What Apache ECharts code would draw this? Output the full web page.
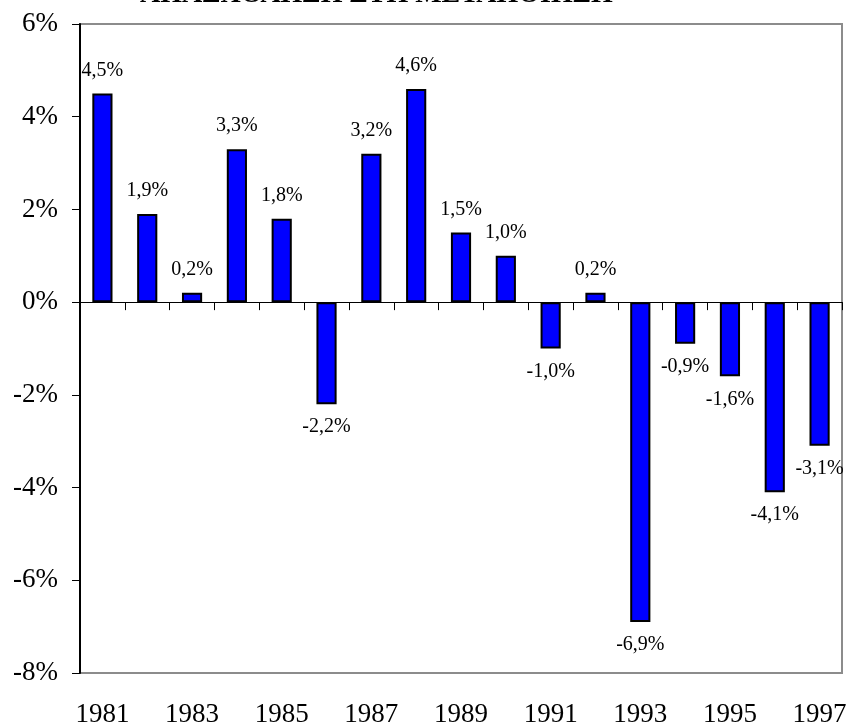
<!DOCTYPE html>
<html>
<head>
<meta charset="utf-8">
<script src="https://cdn.jsdelivr.net/npm/echarts@6/dist/echarts.min.js"></script>
<style>
  html, body { margin: 0; padding: 0; background: #fff; }
  #chart { width: 850px; height: 728px; }
</style>
</head>
<body>
<div id="chart"></div>
<script>
const years = ['1981', '1982', '1983', '1984', '1985', '1986', '1987', '1988', '1989',
  '1990', '1991', '1992', '1993', '1994', '1995', '1996', '1997'];
const changes = [4.5, 1.9, 0.2, 3.3, 1.8, -2.2, 3.2, 4.6, 1.5, 1.0, -1.0, 0.2, -6.9, -0.9, -1.6, -4.1, -3.1];
const yTicks = { min: -8, max: 6, step: 2 };
const titleText = 'ΑΠΑΣΧΟΛΗΣΗ ΣΤΗ ΜΕΤΑΠΟΙΗΣΗ';

const FONT = '"Liberation Serif", "Times New Roman", serif';

const chart = echarts.init(document.getElementById('chart'));

// labels above positive bars, below negative ones
const data = changes.map(v => ({
  value: v,
  label: { position: v >= 0 ? 'top' : 'bottom' }
}));

chart.setOption({
  animation: false,
  textStyle: { fontFamily: FONT, color: '#000' },
  graphic: [{
    type: 'text',
    left: 140,
    top: -19,
    style: {
      text: titleText,
      font: 'bold 28px ' + FONT,
      fill: '#000'
    }
  }],
  grid: {
    left: 80,
    right: 8,
    top: 24,
    bottom: 55,
    show: true,
    borderColor: '#8c8c8c',
    borderWidth: 2,
    backgroundColor: 'transparent'
  },
  xAxis: [
    {
      type: 'category',
      data: years,
      axisLine: { onZero: true, lineStyle: { color: '#000', width: 1 } },
      axisTick: { show: true, interval: 0, length: 8, lineStyle: { color: '#000' } },
      axisLabel: { show: false },
      splitLine: { show: false }
    },
    {
      type: 'category',
      data: years,
      position: 'bottom',
      axisLine: { show: false, onZero: false },
      axisTick: { show: false },
      axisLabel: {
        interval: 1,
        margin: 28,
        fontSize: 27,
        fontFamily: FONT,
        color: '#000'
      }
    }
  ],
  yAxis: {
    type: 'value',
    min: yTicks.min,
    max: yTicks.max,
    interval: yTicks.step,
    axisLine: { show: true, lineStyle: { color: '#000', width: 2 } },
    axisTick: { show: true, length: 8, lineStyle: { color: '#000' } },
    splitLine: { show: false },
    axisLabel: {
      formatter: v => v + '%',
      fontSize: 27,
      margin: 22,
      fontFamily: FONT,
      color: '#000'
    }
  },
  series: [{
    type: 'bar',
    xAxisIndex: 0,
    data: data,
    barWidth: '45%',
    itemStyle: { color: '#0000ff', borderColor: '#000', borderWidth: 2 },
    label: {
      show: true,
      distance: 13,
      fontSize: 20,
      fontFamily: FONT,
      color: '#000',
      formatter: p => p.value.toFixed(1).replace('.', ',') + '%'
    }
  }]
});
</script>
</body>
</html>
